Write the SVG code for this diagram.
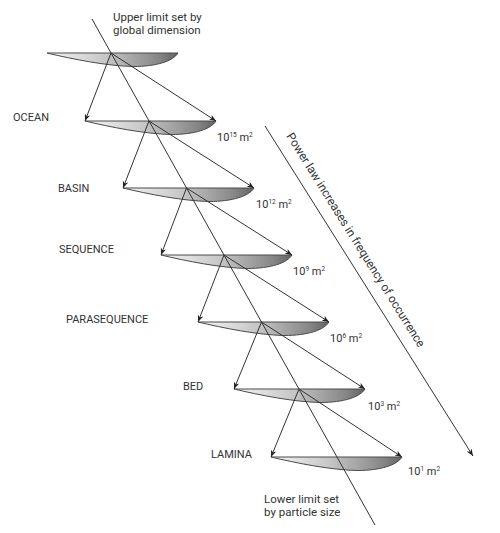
<svg xmlns="http://www.w3.org/2000/svg" width="500" height="533" viewBox="0 0 500 533">
<style>
.t{font-family:Roboto,"Liberation Sans",sans-serif;fill:#333;}
.lbl{font-size:11px;}
.sz{font-size:11px;}
.sup{font-size:6.5px;}
.note{font-size:11.5px;}
.rot{font-size:12px;}
.lens{fill:url(#lg);stroke:#4a4a4a;stroke-width:1;}
.ln{stroke:#333;stroke-width:1;fill:none;}
.ar{stroke:#333;stroke-width:1;fill:none;marker-end:url(#ah);}
</style>
<defs>
<linearGradient id="lg" x1="0" y1="0" x2="1" y2="0">
<stop offset="0" stop-color="#f6f6f6"/>
<stop offset="0.45" stop-color="#c6c6c6"/>
<stop offset="0.85" stop-color="#878787"/>
<stop offset="1" stop-color="#636363"/>
</linearGradient>
<marker id="ah" viewBox="0 0 10 10" refX="10" refY="5" markerWidth="7" markerHeight="7" orient="auto" markerUnits="userSpaceOnUse">
<path d="M0,1 L10,5 L0,9 L3,5 z" fill="#222"/>
</marker>
<path id="lensShape" d="M0,0 L131,0 C126,8 110,13.5 86,13.5 C60,13 25,6 0,0 Z"/>
</defs>

<g id="lens-top">
<use href="#lensShape" class="lens" transform="translate(47,53)"/>
<text class="t note" x="113" y="21">Upper limit set by</text>
<text class="t note" x="113" y="34">global dimension</text>
</g>
<g id="ocean">
<use href="#lensShape" class="lens" transform="translate(85,121)"/>
<text class="t lbl" x="13" y="121">OCEAN</text>
<text class="t sz" x="217" y="141">10<tspan class="sup" dy="-4">15</tspan><tspan dy="4"> m</tspan><tspan class="sup" dy="-4">2</tspan></text>
</g>
<g id="basin">
<use href="#lensShape" class="lens" transform="translate(123,188)"/>
<text class="t lbl" x="58" y="192">BASIN</text>
<text class="t sz" x="256" y="208">10<tspan class="sup" dy="-4">12</tspan><tspan dy="4"> m</tspan><tspan class="sup" dy="-4">2</tspan></text>
</g>
<g id="sequence">
<use href="#lensShape" class="lens" transform="translate(161,255)"/>
<text class="t lbl" x="59" y="253">SEQUENCE</text>
<text class="t sz" x="293" y="275">10<tspan class="sup" dy="-4">9</tspan><tspan dy="4"> m</tspan><tspan class="sup" dy="-4">2</tspan></text>
</g>
<g id="parasequence">
<use href="#lensShape" class="lens" transform="translate(198,322)"/>
<text class="t lbl" x="66" y="323">PARASEQUENCE</text>
<text class="t sz" x="330" y="342">10<tspan class="sup" dy="-4">6</tspan><tspan dy="4"> m</tspan><tspan class="sup" dy="-4">2</tspan></text>
</g>
<g id="bed">
<use href="#lensShape" class="lens" transform="translate(234,389)"/>
<text class="t lbl" x="183" y="390">BED</text>
<text class="t sz" x="368" y="410">10<tspan class="sup" dy="-4">3</tspan><tspan dy="4"> m</tspan><tspan class="sup" dy="-4">2</tspan></text>
</g>
<g id="lamina">
<use href="#lensShape" class="lens" transform="translate(271,457)"/>
<text class="t lbl" x="211" y="458">LAMINA</text>
<text class="t sz" x="408" y="475">10<tspan class="sup" dy="-4">1</tspan><tspan dy="4"> m</tspan><tspan class="sup" dy="-4">2</tspan></text>
<text class="t note" x="264" y="503">Lower limit set</text>
<text class="t note" x="264" y="516">by particle size</text>
</g>

<g id="connectors">
<path class="ln" d="M92,19 L375,525"/>
<path class="ar" d="M111,53 L85,121"/>
<path class="ar" d="M111,53 L216,121"/>
<path class="ar" d="M149,121 L123,188"/>
<path class="ar" d="M149,121 L254,188"/>
<path class="ar" d="M186.5,188 L161,255"/>
<path class="ar" d="M186.5,188 L292,255"/>
<path class="ar" d="M224,255 L198,322"/>
<path class="ar" d="M224,255 L329,322"/>
<path class="ar" d="M261.5,322 L234,389"/>
<path class="ar" d="M261.5,322 L365,389"/>
<path class="ar" d="M299,389 L271,457"/>
<path class="ar" d="M299,389 L402,457"/>
<path class="ar" d="M265,126 L473,456"/>
</g>
<g id="trend-label">
<text class="t rot" transform="translate(286,136) rotate(58)" textLength="250" lengthAdjust="spacingAndGlyphs">Power law increases in frequency of occurrence</text>
</g>
</svg>
